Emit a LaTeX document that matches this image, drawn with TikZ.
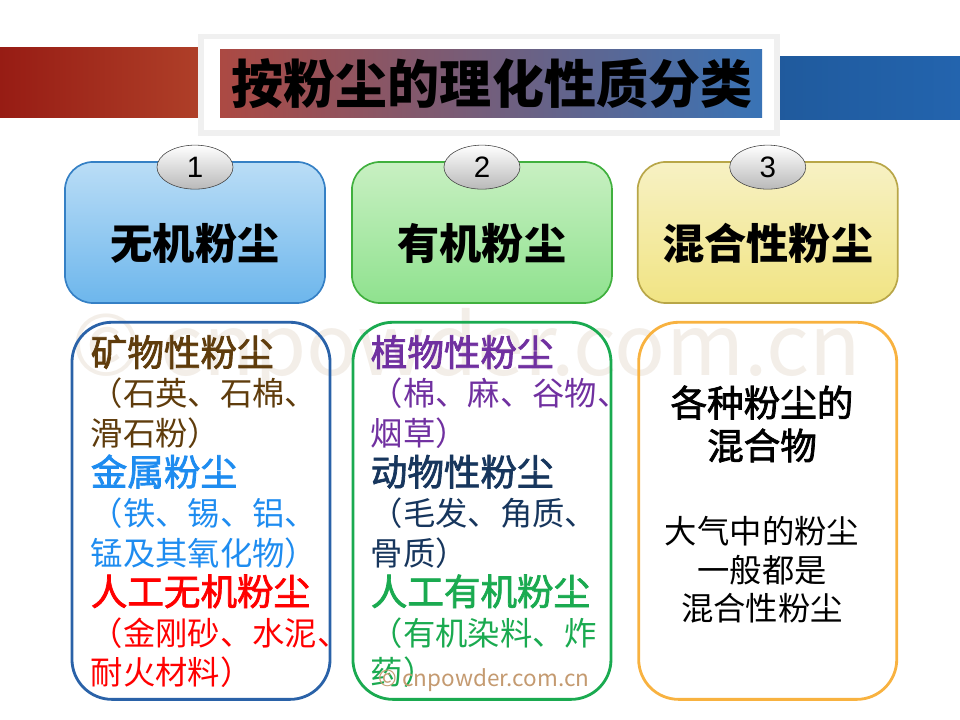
\documentclass[tikz,border=0pt]{standalone}
\usepackage{fontspec}
\setmainfont{Noto Sans CJK SC}
\newfontfamily\numfont{Liberation Sans}
\newfontfamily\medfont{Noto Sans CJK SC}[FakeBold=2]
\usepackage{tikz}
\usetikzlibrary{positioning,shapes.geometric}
\definecolor{bannerred}{HTML}{971C14}
\definecolor{bannerblue}{HTML}{2364AE}
\definecolor{inorgblue}{HTML}{2A62A8}
\definecolor{orggreen}{HTML}{1AAA50}
\definecolor{mixorange}{HTML}{F8B240}
\definecolor{mineral}{HTML}{5F3C0C}
\definecolor{metal}{HTML}{1E8CF0}
\definecolor{plant}{HTML}{7030A0}
\definecolor{animal}{HTML}{17365D}
\definecolor{wmark}{HTML}{F3EEE8}
\definecolor{wmarksmall}{HTML}{C49A70}
\definecolor{skytop}{HTML}{BADDF6}
\definecolor{skymain}{HTML}{3C9EE6}
\definecolor{skyline}{HTML}{3580C5}
\definecolor{leaftop}{HTML}{C8F0C2}
\definecolor{leafmain}{HTML}{6AD869}
\definecolor{leafline}{HTML}{40B03E}
\definecolor{sandtop}{HTML}{F7F1C4}
\definecolor{sandmain}{HTML}{ECDB5A}
\definecolor{sandline}{HTML}{B8A648}

\begin{document}
\begin{tikzpicture}[x=0.025cm,y=-0.025cm,node distance=0.65cm,
headbox/.style={draw,rounded corners=0.7cm,line width=1.2pt,minimum width=6.5cm,
minimum height=3.525cm,text height=42pt,text depth=3.6pt,
font=\fontsize{30}{30}\selectfont\bfseries},
numoval/.style={ellipse,draw=black!75,thin,top color=white,middle color=gray!25,
bottom color=gray!55,minimum width=1.9cm,minimum height=1.1cm,inner sep=0pt,
font=\numfont\fontsize{21}{21}\selectfont},
listbox/.style={draw,rounded corners=1cm,line width=2pt,minimum width=6.45cm,
minimum height=9.425cm},
listtext/.style={anchor=north west,inner sep=0pt,align=left,
font=\fontsize{23}{28.35}\selectfont}]
\useasboundingbox (0,0) rectangle (960,720);

% watermark
\node[text=wmark,font=\fontsize{60}{60}\selectfont] (wm) at (466,352) {© cnpowder.com.cn};

% title banner
\fill[left color=bannerred,right color=bannerred!85!orange!90!white] (0,48) rectangle (205,118);
\fill[left color=bannerblue!90!black,right color=bannerblue] (775,57) rectangle (960,120);
\fill[gray!12] (198,34) rectangle (780,136);
\fill[white] (204,39) rectangle (774,130);
\fill[left color=bannerred!80!white,middle color=bannerred!25!white,right color=bannerblue!90!white]
  (220,50) rectangle (762,118);
\node[font=\fontsize{37}{37}\selectfont\bfseries] (title) at (492,84) {按粉尘的理化性质分类};

% head boxes
\node[headbox,draw=skyline,top color=skytop,middle color=skymain,
bottom color=skymain!75!white] (inorg) at (195,232.5) {无机粉尘};
\node[headbox,draw=leafline,top color=leaftop,middle color=leafmain,
bottom color=leafmain!75!white,right=of inorg,xshift=-0.02cm] (org) {有机粉尘};
\node[headbox,draw=sandline,top color=sandtop,middle color=sandmain,
bottom color=sandmain!75!white,right=of org,xshift=-0.05cm] (mix) {混合性粉尘};

\node[numoval] (n1) at ([yshift=-0.15cm]inorg.north) {1};
\node[numoval] (n2) at ([yshift=-0.15cm]org.north) {2};
\node[numoval] (n3) at ([yshift=-0.15cm]mix.north) {3};

% list boxes
\node[listbox,draw=inorgblue,below=0.425cm of inorg,xshift=0.15cm] (inorglist) {};
\node[listbox,draw=orggreen,below=0.425cm of org] (orglist) {};
\node[listbox,draw=mixorange,below=0.425cm of mix] (mixlist) {};

\node[listtext] (inorgtext) at ([shift={(20,14)}]inorglist.north west) {%
{\color{mineral}\fontsize{26}{28.35}\medfont 矿物性粉尘}\\
{\color{mineral}（石英、石棉、}\\
{\color{mineral}滑石粉）}\\
{\color{metal}\fontsize{26}{28.35}\medfont 金属粉尘}\\
{\color{metal}（铁、锡、铝、}\\
{\color{metal}锰及其氧化物）}\\
{\color{red}\fontsize{26}{28.35}\medfont 人工无机粉尘}\\
{\color{red}（金刚砂、水泥、}\\
{\color{red}耐火材料）}};

\node[listtext] (orgtext) at ([shift={(19,14)}]orglist.north west) {%
{\color{plant}\fontsize{26}{28.35}\medfont 植物性粉尘}\\
{\color{plant}（棉、麻、谷物、}\\
{\color{plant}烟草）}\\
{\color{animal}\fontsize{26}{28.35}\medfont 动物性粉尘}\\
{\color{animal}（毛发、角质、}\\
{\color{animal}骨质）}\\
{\color{orggreen}\fontsize{26}{28.35}\medfont 人工有机粉尘}\\
{\color{orggreen}（有机染料、炸}\\
{\color{orggreen}药）}};

\node[align=center,font=\fontsize{26}{30.5}\medfont] (mixhead) at (762,424) {各种粉尘的\\混合物};
\node[align=center,font=\fontsize{23}{27.3}\selectfont] (mixnote) at (762,570) {大气中的粉尘\\一般都是\\混合性粉尘};

\node[text=wmarksmall,font=\fontsize{16}{16}\selectfont] (wmsmall) at (484,680) {© cnpowder.com.cn};
\end{tikzpicture}
\end{document}
